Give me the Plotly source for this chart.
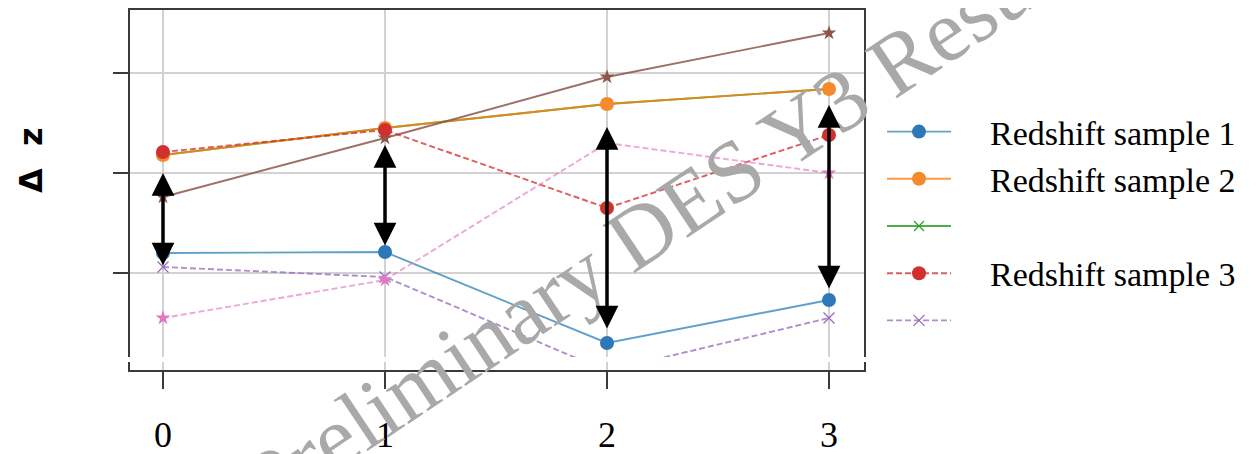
import plotly.graph_objects as go

# ---------------- data ----------------
x_vals = [0, 1, 2, 3]
tick_labels = ["0", "1", "2", "3"]
y_ticks = [0.0, 0.01, 0.02]

sample1_blue = [0.0020, 0.0021, -0.0070, -0.0027]
sample2_orange = [0.0118, 0.0145, 0.0169, 0.0184]
green_hidden = [0.0118, 0.0145, 0.0169, 0.0184]
sample3_red = [0.0121, 0.0143, 0.0065, 0.0138]
purple_dashed = [0.0006, -0.0004, -0.0098, -0.0045]
pink_dashed = [-0.0045, -0.0007, 0.0130, 0.0100]
brown_solid = [0.0076, 0.0135, 0.0196, 0.0240]

arrow_top = [0.0100, 0.0128, 0.0146, 0.0168]
arrow_bottom = [0.0006, 0.0026, -0.0057, -0.0017]

pad = "\u00a0" * 4
legend_names = [pad + "Redshift sample 1", pad + "Redshift sample 2", " ",
                pad + "Redshift sample 3", " "]

# ---------------- figure ----------------
# the page body adds an 8px margin, so the figure is 8px smaller on each axis
W, H = 1250, 446
ML, MR, MT, MB = 122, 394, 2, 84
plot_w = W - ML - MR  # 734
plot_h = H - MT - MB  # 360
main_bottom = 13 / plot_h
band_top = 8 / plot_h

x_range = [(130 - 163) / 222, (864 - 163) / 222]
y_range = [(273 - 357) / 10000, (273 - 10) / 10000]

fig = go.Figure()


def add(y, name, color, line_rgba, dash, symbol, size, rank, showlegend=True):
    fig.add_trace(go.Scatter(
        x=x_vals, y=y, name=name, mode="lines+markers",
        line=dict(color=line_rgba, width=1.9, dash=dash),
        marker=dict(color=color, symbol=symbol, size=size,
                    line=dict(width=1.2 if "x" in symbol else 0, color=color)),
        legendrank=rank, showlegend=showlegend,
        legendgroup="g" + str(rank),
        xaxis="x", yaxis="y",
    ))


add(green_hidden, legend_names[2], "#2ca02c", "rgba(44,160,44,0.85)", "solid", "x-thin", 10, 3)
add(sample1_blue, legend_names[0], "#2f78b8", "rgba(31,119,180,0.7)", "solid", "circle", 14, 1)
add(sample2_orange, legend_names[1], "#f58a2c", "rgba(255,127,14,0.8)", "solid", "circle", 14, 2)
add(brown_solid, "brown", "#8c564b", "rgba(140,86,75,0.85)", "solid", "star", 11, 7, showlegend=False)
add(sample3_red, legend_names[3], "#d0302e", "rgba(214,39,40,0.75)", "6px,3px", "circle", 14, 4)
add(purple_dashed, legend_names[4], "#9467bd", "rgba(148,103,189,0.75)", "6px,3px", "x-thin", 11, 5)
add(pink_dashed, "pink", "#e377c2", "rgba(227,119,194,0.65)", "6px,3px", "star", 11, 6, showlegend=False)

# empty trace for bottom band axes
fig.add_trace(go.Scatter(x=[], y=[], xaxis="x2", yaxis="y2", showlegend=False))

frame_col = "#3a3a3a"
grid_col = "#d2d2d2"

fig.update_layout(
    width=W, height=H,
    margin=dict(l=ML, r=MR, t=MT, b=MB, autoexpand=False),
    paper_bgcolor="white", plot_bgcolor="white",
    showlegend=True,
    xaxis=dict(domain=[0, 1], range=x_range, anchor="y", side="top",
               showline=True, linecolor=frame_col, linewidth=2, mirror=False,
               showgrid=True, gridcolor=grid_col, gridwidth=1.5,
               tickvals=x_vals, showticklabels=False, ticks="", zeroline=False),
    yaxis=dict(domain=[main_bottom, 1], range=y_range, anchor="x",
               showline=True, linecolor=frame_col, linewidth=2, mirror=True,
               showgrid=True, gridcolor=grid_col, gridwidth=1.5,
               tickvals=y_ticks, showticklabels=False, ticks="outside",
               ticklen=15, tickwidth=2, tickcolor=frame_col, zeroline=False),
    xaxis2=dict(domain=[0, 1], range=x_range, anchor="y2", side="bottom",
                showline=True, linecolor=frame_col, linewidth=2, mirror=False,
                showgrid=True, gridcolor=grid_col, gridwidth=1.5,
                tickvals=x_vals, ticktext=tick_labels, ticks="outside",
                ticklen=17, tickwidth=2, tickcolor=frame_col, zeroline=False,
                ticklabelstandoff=15, automargin=False,
                tickfont=dict(family="Liberation Serif", size=36, color="black")),
    yaxis2=dict(domain=[0, band_top], range=[0, 1], anchor="x2",
                showline=True, linecolor=frame_col, linewidth=2, mirror=True,
                showgrid=False, showticklabels=False, ticks="", zeroline=False),
    legend=dict(x=(874 - ML) / plot_w, y=(H - MB - 95) / plot_h,
                xanchor="left", yanchor="top",
                bgcolor="rgba(255,255,255,0)", borderwidth=0,
                itemwidth=64, tracegroupgap=0, traceorder="normal",
                font=dict(family="Liberation Serif", size=34, color="black")),
)

# dotted zero line
fig.add_shape(type="line", xref="paper", yref="y", x0=0, x1=1, y0=0, y1=0,
              line=dict(color="#8a8a8a", width=1.2, dash="dot"), layer="below")

annotations = []
# watermark
annotations.append(dict(
    text="Preliminary DES Y3 Results", x=2.293, y=0.0061, xref="x", yref="y",
    xanchor="center", yanchor="middle", showarrow=False, textangle=-33.7,
    font=dict(family="Liberation Serif", size=88, color="#a9a9a9")))
# double arrows
for xv, yt, yb in zip(x_vals, arrow_top, arrow_bottom):
    annotations.append(dict(
        x=xv, y=yt, ax=xv, ay=yb, xref="x", yref="y", axref="x", ayref="y",
        text="", showarrow=True, arrowhead=2, startarrowhead=2,
        arrowside="end+start", arrowsize=1.3, startarrowsize=1.3,
        arrowwidth=3.5, arrowcolor="black", standoff=0, startstandoff=0))
# y-axis title
annotations.append(dict(
    text="Δ\u00a0\u00a0z", x=(23 - ML) / plot_w, y=(H - MB - 152) / plot_h,
    xref="paper", yref="paper", showarrow=False, textangle=-90,
    xanchor="center", yanchor="middle",
    font=dict(family="DejaVu Sans", size=32, color="black", weight="bold")))

fig.update_layout(annotations=annotations)

fig.write_html("out.html")
